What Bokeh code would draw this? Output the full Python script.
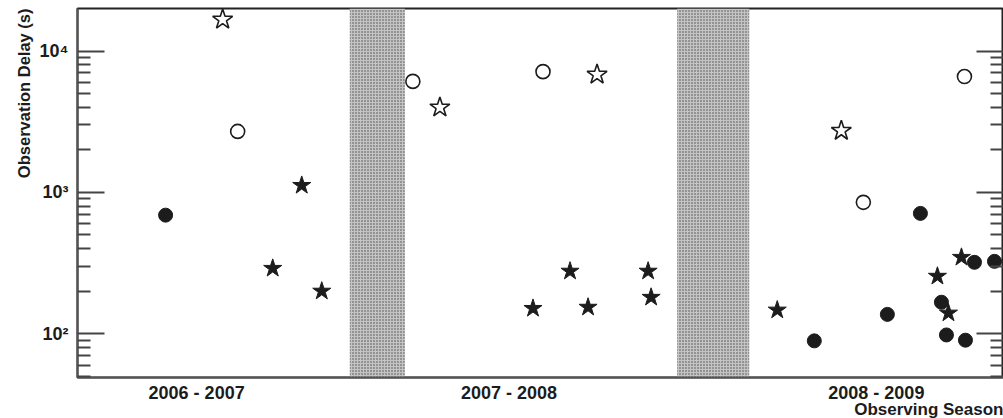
from bokeh.plotting import figure
from bokeh.models import Range1d, LogAxis, FixedTicker, BoxAnnotation, Title
from bokeh.embed import file_html
from bokeh.resources import INLINE

# ---- data (x = days along the observing timeline, arbitrary origin) ----
filled_circle_x = [88, 736, 809, 842, 863, 868, 887, 896, 916]
filled_circle_y = [690, 89, 137, 710, 167, 98, 90, 320, 325]

open_circle_x = [160, 335, 465, 785, 886]
open_circle_y = [2700, 6100, 7150, 850, 6600]

filled_star_x = [195, 224, 244, 455, 492, 510, 570, 573, 699, 859, 870, 883]
filled_star_y = [290, 1120, 200, 151, 277, 154, 277, 181, 147, 255, 140, 347]

open_star_x = [145, 362, 519, 763]
open_star_y = [16700, 3990, 6820, 2730]

gap_starts = [272, 599]
gap_ends = [327, 671]

season_centers = [119, 431, 798]
season_labels = ["2006 - 2007", "2007 - 2008", "2008 - 2009"]

y_major = [100, 1000, 10000]
y_major_labels = ["10\u00b2", "10\u00b3", "10\u2074"]
y_minor = [50, 60, 70, 80, 90, 200, 300, 400, 500, 600, 700, 800, 900,
           2000, 3000, 4000, 5000, 6000, 7000, 8000, 9000]

FONT = "Liberation Sans"
INK = "#1c1c1c"

p = figure(width=1003, height=418, y_axis_type="log",
           x_range=Range1d(0, 925), y_range=Range1d(49, 20000),
           output_backend="svg", toolbar_location=None,
           min_border_left=77, min_border_right=0, min_border_top=8,
           min_border_bottom=0)
p.xgrid.visible = False
p.ygrid.visible = False
p.outline_line_color = "#222222"
p.outline_line_width = 2
p.background_fill_color = "white"
p.border_fill_color = "white"

# shaded gaps between seasons
for a, b in zip(gap_starts, gap_ends):
    p.add_layout(BoxAnnotation(left=a, right=b, fill_color="#c4c4c4", fill_alpha=1.0,
                               hatch_pattern="dot", hatch_color="#484848",
                               hatch_scale=3, hatch_alpha=1.0,
                               line_color=None, level="underlay"))

# markers
p.scatter(filled_circle_x, filled_circle_y, marker="circle", size=14,
          fill_color=INK, line_color=INK)
p.scatter(open_circle_x, open_circle_y, marker="circle", size=14,
          fill_color=None, line_color=INK, line_width=1.6)
p.scatter(filled_star_x, filled_star_y, marker="star", size=19,
          fill_color=INK, line_color=INK)
p.scatter(open_star_x, open_star_y, marker="star", size=21,
          fill_color=None, line_color=INK, line_width=1.6)

# y axis (left)
yt = FixedTicker(ticks=y_major, minor_ticks=y_minor)
ya = p.yaxis[0]
ya.ticker = yt
ya.major_label_overrides = dict(zip(y_major, y_major_labels))
ya.major_tick_in = 27
ya.major_tick_out = 0
ya.minor_tick_in = 13
ya.minor_tick_out = 0
ya.major_tick_line_width = 2
ya.minor_tick_line_width = 2
ya.major_tick_line_color = "#444444"
ya.minor_tick_line_color = "#444444"
ya.axis_line_width = 2
ya.axis_line_color = "#555555"
ya.major_label_text_font = FONT
ya.major_label_text_font_style = "bold"
ya.major_label_text_font_size = "18px"
ya.major_label_text_color = INK
ya.major_label_standoff = 9

# right mirror axis (ticks only)
ra = LogAxis(ticker=FixedTicker(ticks=y_major, minor_ticks=y_minor))
ra.major_tick_in = 27
ra.major_tick_out = 0
ra.minor_tick_in = 13
ra.minor_tick_out = 0
ra.major_tick_line_width = 2
ra.minor_tick_line_width = 2
ra.major_tick_line_color = "#444444"
ra.minor_tick_line_color = "#444444"
ra.axis_line_color = None
ra.major_label_text_font_size = "1px"
ra.major_label_text_color = None
ra.major_label_standoff = 0
p.add_layout(ra, "right")

# x axis
xa = p.xaxis[0]
xa.ticker = FixedTicker(ticks=season_centers)
xa.major_label_overrides = dict(zip(season_centers, season_labels))
xa.major_tick_line_color = None
xa.minor_tick_line_color = None
xa.major_tick_out = 0
xa.major_tick_in = 0
xa.axis_line_width = 2
xa.axis_line_color = "#555555"
xa.major_label_text_font = FONT
xa.major_label_text_font_style = "bold"
xa.major_label_text_font_size = "18px"
xa.major_label_text_color = INK
xa.major_label_text_line_height = 1.0
xa.major_label_standoff = 5

p.add_layout(Title(text="Observing Season", align="right",
                   text_font=FONT, text_font_style="bold", text_font_size="17px",
                   text_line_height=1.0,
                   text_color=INK, standoff=-16), "below")
# small spacer under the axis title
p.add_layout(Title(text=" ", text_font_size="5px", standoff=0), "below")
p.add_layout(Title(text="Observation Delay (s)", align="right", text_font=FONT,
                   text_font_style="bold", text_font_size="16.5px",
                   text_color=INK, standoff=8), "left")

open("out.html", "w").write(file_html(p, INLINE))
